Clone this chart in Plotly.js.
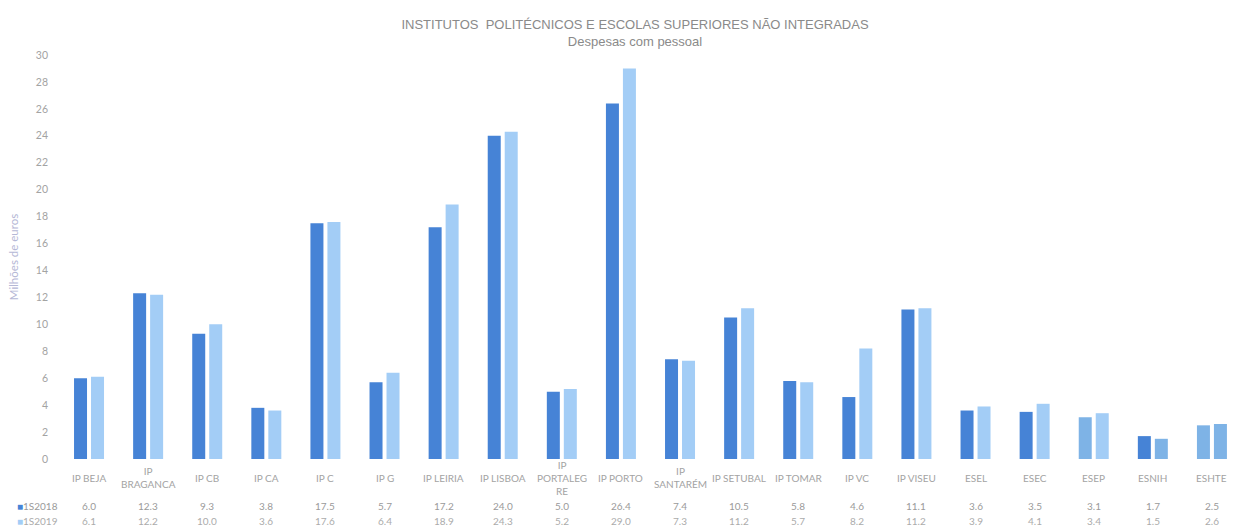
<!DOCTYPE html>
<html>
<head>
<meta charset="utf-8">
<script src="https://cdn.plot.ly/plotly-3.0.1.min.js"></script>
<style>html,body{margin:0;padding:0;background:#fff;}#chart{width:1239px;height:530px;}</style>
</head>
<body>
<div id="chart"></div>
<script>
var categories = ['IP BEJA','IP BRAGANCA','IP CB','IP CA','IP C','IP G','IP LEIRIA','IP LISBOA','IP PORTALEGRE','IP PORTO','IP SANTARÉM','IP SETUBAL','IP TOMAR','IP VC','IP VISEU','ESEL','ESEC','ESEP','ESNIH','ESHTE'];
var categoryLabels = ['IP BEJA','IP<br>BRAGANCA','IP CB','IP CA','IP C','IP G','IP LEIRIA','IP LISBOA','IP<br>PORTALEG<br>RE','IP PORTO','IP<br>SANTARÉM','IP SETUBAL','IP TOMAR','IP VC','IP VISEU','ESEL','ESEC','ESEP','ESNIH','ESHTE'];
var seriesNames = ['1S2018','1S2019'];
var values2018 = [6.0,12.3,9.3,3.8,17.5,5.7,17.2,24.0,5.0,26.4,7.4,10.5,5.8,4.6,11.1,3.6,3.5,3.1,1.7,2.5];
var values2019 = [6.1,12.2,10.0,3.6,17.6,6.4,18.9,24.3,5.2,29.0,7.3,11.2,5.7,8.2,11.2,3.9,4.1,3.4,1.5,2.6];
var yTicks = [0,2,4,6,8,10,12,14,16,18,20,22,24,26,28,30];

var DARK = '#4683D6', LIGHT = '#A3CDF6', MID = '#7EB3E6';
var colors2018 = categories.map(function(c){ return (c==='ESEP'||c==='ESHTE') ? MID : DARK; });
var colors2019 = categories.map(function(c){ return (c==='ESNIH'||c==='ESHTE') ? MID : LIGHT; });

var idx = categories.map(function(_,i){return i;});

var traces = [
  {type:'bar', name:seriesNames[0], x:idx, y:values2018, marker:{color:colors2018}, hoverinfo:'y'},
  {type:'bar', name:seriesNames[1], x:idx, y:values2019, marker:{color:colors2019}, hoverinfo:'y'}
];

var FONT = 'Lato, "Liberation Sans", sans-serif';
var TXT = '#A3A3A3';
var annotations = [];
// category labels
categoryLabels.forEach(function(lbl,i){
  annotations.push({xref:'x', yref:'paper', x:i, y:-0.047, text:lbl, showarrow:false,
    xanchor:'center', yanchor:'middle', align:'center', font:{family:FONT, size:10, color:TXT}});
});
// data table rows
var rowsY = [-0.116, -0.153];
[values2018, values2019].forEach(function(arr, r){
  arr.forEach(function(v,i){
    annotations.push({xref:'x', yref:'paper', x:i, y:rowsY[r], text:v.toFixed(1), showarrow:false,
      xanchor:'center', yanchor:'middle', font:{family:FONT, size:10, color: r===0 ? '#9A9A9A' : '#ABABAB'}});
  });
  annotations.push({xref:'paper', yref:'paper', x:-0.037, y:rowsY[r], xanchor:'left', yanchor:'middle', showarrow:false,
    text:'<span style="color:' + (r===0 ? DARK : LIGHT) + '">■</span>' + seriesNames[r],
    font:{family:FONT, size:10, color: r===0 ? '#9A9A9A' : '#ABABAB'}});
});

var layout = {
  width:1239, height:530,
  margin:{l:59, r:0, t:55, b:71},
  paper_bgcolor:'#fff', plot_bgcolor:'#fff',
  showlegend:false,
  barmode:'group', bargap:0.425, bargroupgap:0.235,
  title:{text:'INSTITUTOS  POLITÉCNICOS E ESCOLAS SUPERIORES NÃO INTEGRADAS<br>Despesas com pessoal',
    x:635/1239, xref:'container', xanchor:'center', y:1-29/530, yref:'container', yanchor:'middle',
    font:{family:'"Liberation Sans", Arial, sans-serif', size:13, color:'#8A8A8A'}},
  xaxis:{range:[-0.508,19.458], showticklabels:false, showgrid:false, zeroline:false, showline:false, ticks:'', fixedrange:true},
  yaxis:{range:[0,30], tickvals:yTicks, ticktext:yTicks.map(String), showgrid:false, zeroline:false, showline:false,
    ticks:'', ticklabelstandoff:10, tickfont:{family:FONT, size:10.5, color:TXT},
    title:{text:'Milhões de euros', standoff:14, font:{family:FONT, size:11.5, color:'#B5B8D6'}}},
  annotations:annotations,
  font:{family:FONT}
};
Plotly.newPlot('chart', traces, layout, {staticPlot:true, displayModeBar:false});
</script>
</body>
</html>
